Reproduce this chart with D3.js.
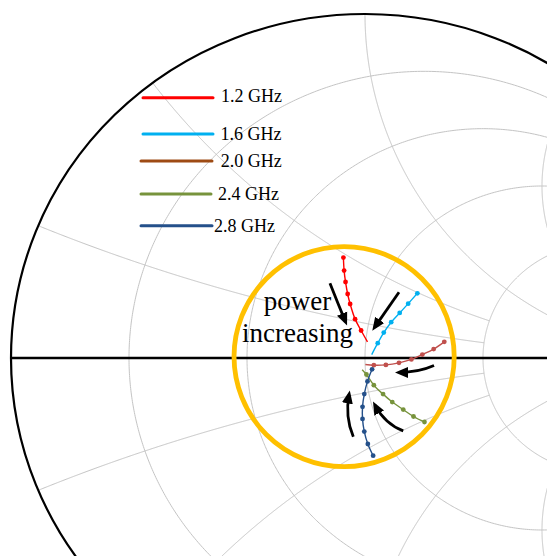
<!DOCTYPE html>
<html>
<head>
<meta charset="utf-8">
<script src="https://cdn.jsdelivr.net/npm/d3@7"></script>
<style>
  html, body { margin: 0; padding: 0; background: #fff; }
  svg { display: block; }
</style>
</head>
<body>
<svg id="chart" width="547" height="556"></svg>
<script>
// Load-pull traces on a Smith chart: reflection coefficient (re, im) per input power step,
// listed from low to high drive. The last entry of each trace end list is where the fitted
// trace stops (no measurement marker there).
const frequencies = ["1.2 GHz", "1.6 GHz", "2.0 GHz", "2.4 GHz", "2.8 GHz"];

const gamma12 = [[-0.061, 0.292], [-0.059, 0.254], [-0.055, 0.221], [-0.049, 0.186],
                 [-0.042, 0.157], [-0.028, 0.113], [-0.011, 0.080]];
const gamma16 = [[0.148, 0.188], [0.122, 0.158], [0.098, 0.131], [0.074, 0.104],
                 [0.053, 0.074], [0.036, 0.043]];
const gamma20 = [[0.224, 0.047], [0.194, 0.026], [0.162, 0.010], [0.131, -0.004],
                 [0.096, -0.014], [0.059, -0.020], [0.025, -0.021]];
const gamma24 = [[0.168, -0.186], [0.137, -0.170], [0.108, -0.150], [0.077, -0.128],
                 [0.051, -0.105], [0.025, -0.079], [0.004, -0.048]];
const gamma28 = [[0.023, -0.284], [0.008, -0.250], [-0.002, -0.214], [-0.007, -0.177],
                 [-0.007, -0.142], [-0.002, -0.105], [0.007, -0.068], [0.020, -0.033]];

const traceEnds = [[0.007, 0.047], [0.019, 0.010], [0.001, -0.019], [-0.008, -0.034], null];
const traces = [gamma12, gamma16, gamma20, gamma24, gamma28];

// Smith chart grid: constant-resistance circles and constant-reactance arcs,
// each drawn up to the listed limit of the other coordinate.
const resistanceValues = [0.2, 0.5, 1, 2, 5];
const resistanceLimits = [5, 5, 5, 5, 30];
const reactanceValues = [0.2, 0.5, 1, 2, 5];
const reactanceLimits = [2, 2, 5, 5, 30];

// Region of interest around the optimum and the "power increasing" arrows (in Gamma units).
const focusCenter = [-0.059, 0.004];
const focusRadius = 0.311;
const arrows = [
  [[-0.099, 0.217], [-0.078, 0.162], [-0.055, 0.105]],
  [[0.096, 0.191], [0.062, 0.141], [0.027, 0.089]],
  [[0.195, -0.022], [0.151, -0.042], [0.096, -0.042]],
  [[0.108, -0.212], [0.057, -0.192], [0.028, -0.137]],
  [[-0.033, -0.229], [-0.057, -0.171], [-0.045, -0.106]]
];

// Styles
const lineColors = ["#ff0000", "#00b0f0", "#c0504d", "#77933c", "#24508a"];
const legendColors = ["#ff0000", "#00b0f0", "#9e4b14", "#77933c", "#24508a"];

// Legend layout
const legendLineX = [[143, 213], [143, 213], [141, 212], [141, 211], [141, 212]];
const legendLineY = [97.7, 134, 161, 194, 225.7];
const legendTextX = [221, 220.5, 220.7, 218, 214];
const legendTextY = [101.7, 140, 167.3, 200, 231.7];

const svg = d3.select("#chart");

// Chart frame: unit circle centred at (365, 358), 354 px wide radius, 344 px tall radius
const gx = d3.scaleLinear().domain([-1, 1]).range([11, 719]);
const gy = d3.scaleLinear().domain([-1, 1]).range([702, 14]);

function zToGamma(r, x) {
  const d = (r + 1) * (r + 1) + x * x;
  return [(r * r + x * x - 1) / d, 2 * x / d];
}

const pathOf = d3.line().x(d => gx(d[0])).y(d => gy(d[1]));

const grid = svg.append("g").attr("fill", "none").attr("stroke", "#c4c4c4").attr("stroke-width", 1);
const N = 600;

resistanceValues.forEach((r, i) => {
  const tMax = Math.atan(resistanceLimits[i]);
  const pts = d3.range(N + 1).map(k => {
    const t = -tMax + 2 * tMax * k / N;
    return zToGamma(r, Math.tan(t));
  });
  grid.append("path").attr("d", pathOf(pts));
});

reactanceValues.forEach((x, i) => {
  const pMax = Math.atan(reactanceLimits[i]);
  [1, -1].forEach(sign => {
    const pts = d3.range(N + 1).map(k => zToGamma(Math.tan(pMax * k / N), sign * x));
    grid.append("path").attr("d", pathOf(pts));
  });
});

// Outer |Gamma| = 1 boundary and real axis
svg.append("ellipse")
  .attr("cx", gx(0)).attr("cy", gy(0))
  .attr("rx", gx(1) - gx(0)).attr("ry", gy(0) - gy(1))
  .attr("fill", "none").attr("stroke", "#000").attr("stroke-width", 2.2);

svg.append("line")
  .attr("x1", gx(-1)).attr("x2", gx(1)).attr("y1", gy(0)).attr("y2", gy(0))
  .attr("stroke", "#000").attr("stroke-width", 2.4);

// Highlighted optimum region
svg.append("circle")
  .attr("cx", gx(focusCenter[0])).attr("cy", gy(focusCenter[1]))
  .attr("r", gx(focusRadius) - gx(0))
  .attr("fill", "none").attr("stroke", "#ffc000").attr("stroke-width", 4.8);

// Traces and markers
const traceLine = d3.line().x(d => gx(d[0])).y(d => gy(d[1])).curve(d3.curveCatmullRom.alpha(0.5));
traces.forEach((pts, i) => {
  const full = traceEnds[i] ? pts.concat([traceEnds[i]]) : pts;
  svg.append("path")
    .attr("d", traceLine(full))
    .attr("fill", "none").attr("stroke", lineColors[i]).attr("stroke-width", 1.4);
  svg.append("g").selectAll("circle").data(pts).join("circle")
    .attr("cx", d => gx(d[0])).attr("cy", d => gy(d[1]))
    .attr("r", 2.4).attr("fill", lineColors[i]);
});

// Arrows
const defs = svg.append("defs");
defs.append("marker")
  .attr("id", "head").attr("viewBox", "0 -6 14 12")
  .attr("markerUnits", "userSpaceOnUse")
  .attr("markerWidth", 14).attr("markerHeight", 12)
  .attr("refX", 9).attr("refY", 0).attr("orient", "auto")
  .append("path").attr("d", "M0,-5.5L13,0L0,5.5Z").attr("fill", "#000");

arrows.forEach(a => {
  const p0 = a[0], c = a[1], p1 = a[2];
  svg.append("path")
    .attr("d", `M${gx(p0[0])},${gy(p0[1])}Q${gx(c[0])},${gy(c[1])} ${gx(p1[0])},${gy(p1[1])}`)
    .attr("fill", "none").attr("stroke", "#000").attr("stroke-width", 2.8)
    .attr("marker-end", "url(#head)");
});

// Annotation text
const note = svg.append("text")
  .attr("font-family", "'Liberation Serif', 'Times New Roman', serif")
  .attr("font-size", 27).attr("text-anchor", "middle").attr("fill", "#000");
note.append("tspan").attr("x", 297.5).attr("y", 310).text("power");
note.append("tspan").attr("x", 297.5).attr("y", 341.5).text("increasing");

// Legend
const legend = svg.append("g");
frequencies.forEach((f, i) => {
  legend.append("line")
    .attr("x1", legendLineX[i][0]).attr("x2", legendLineX[i][1])
    .attr("y1", legendLineY[i]).attr("y2", legendLineY[i])
    .attr("stroke", legendColors[i]).attr("stroke-width", 3).attr("stroke-linecap", "round");
  legend.append("text")
    .attr("x", legendTextX[i]).attr("y", legendTextY[i])
    .attr("font-family", "'Liberation Serif', 'Times New Roman', serif")
    .attr("font-size", 18).attr("fill", "#000")
    .text(f);
});
</script>
</body>
</html>
